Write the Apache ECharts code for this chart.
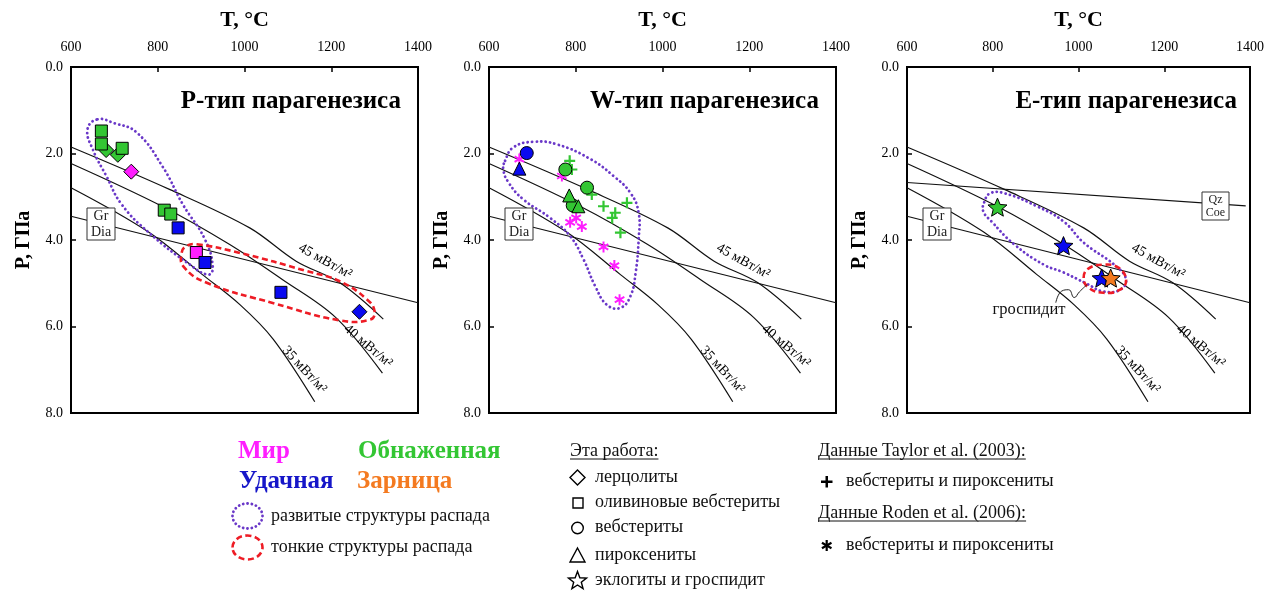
<!DOCTYPE html>
<html><head><meta charset="utf-8">
<script src="https://cdn.jsdelivr.net/npm/echarts@6/dist/echarts.min.js"></script>
<style>html,body{margin:0;padding:0;background:#fff}#c{width:1267px;height:592px}</style>
</head><body><div id="c"></div>
<script>
// ---------- axis ticks ----------
const xTicks = [600, 800, 1000, 1200, 1400];
const yTicks = [0, 2, 4, 6, 8];
const panelTitles = ['P-тип парагенезиса', 'W-тип парагенезиса', 'E-тип парагенезиса'];

// ---------- reference lines (T °C, P GPa) ----------
const geo45 = [[600,1.85],[827,2.83],[1012,3.72],[1119,4.49],[1220,4.99],[1320,5.83]];
const geo40 = [[600,2.23],[810,3.22],[965,4.10],[1088,4.92],[1210,5.79],[1318,7.08]];
const geo35 = [[600,2.79],[778,3.81],[903,4.80],[990,5.50],[1066,6.29],[1162,7.74]];
const grDia = [[600,3.45],[1400,5.45]];
const qzCoe = [[600,2.67],[1390,3.21]];
const geoLabels = [
  {text:'45 мВт/м²', T:1186, P:4.49, rot:-29},
  {text:'40 мВт/м²', T:1285, P:6.45, rot:-40},
  {text:'35 мВт/м²', T:1138, P:7.00, rot:-47}
];

// ---------- panel 1 (P-type) ----------
const p1ObnSq  = [[670,1.48],[670,1.78],[718,1.88],[815,3.31],[830,3.40]];
const p1ObnDia = [[681,1.92],[708,2.03]];
const p1MirDia = [[739,2.42]];
const p1MirSq  = [[889,4.29]];
const p1UdaSq  = [[847,3.72],[909,4.52],[1084,5.21]];
const p1UdaDia = [[1265,5.66]];
const p1Dev = [[661,1.21],[700,1.30],[751,1.51],[811,2.30],[858,3.18],[909,3.99],[927,4.64],[916,4.80],[874,4.57],[782,3.85],[717,3.18],[682,2.53],[650,1.90],[638,1.44]];
const p1Fine = [[890,4.10],[990,4.30],[1144,4.72],[1221,4.96],[1283,5.38],[1300,5.65],[1290,5.84],[1221,5.86],[1067,5.46],[913,4.99],[859,4.61],[855,4.30],[866,4.14]];

// ---------- panel 2 (W-type) ----------
const p2UdaCirc = [[687,1.99]];
const p2UdaTri  = [[670,2.35]];
const p2ObnCirc = [[776,2.37],[826,2.79],[793,3.20]];
const p2ObnTri  = [[785,2.97],[806,3.22]];
const p2Taylor  = [[786,2.17],[791,2.37],[837,2.95],[864,3.22],[918,3.14],[891,3.37],[884,3.49],[903,3.83]];
const p2Roden   = [[670,2.13],[768,2.52],[801,3.49],[787,3.59],[814,3.69],[864,4.16],[889,4.59],[901,5.38]];
const p2Dev = [[637,2.17],[656,1.86],[702,1.73],[757,1.79],[834,2.13],[887,2.52],[926,2.91],[945,3.37],[945,3.99],[938,4.76],[926,5.30],[903,5.57],[872,5.50],[845,5.07],[818,4.45],[787,3.91],[741,3.49],[679,3.06],[645,2.67],[633,2.37]];

// ---------- panel 3 (E-type) ----------
const p3ObnStar = [[811,3.24]];
const p3UdaStar = [[965,4.13],[1054,4.88]];
const p3ZarStar = [[1075,4.88]];
const p3Dev = [[780,3.13],[794,2.92],[827,2.92],[903,3.22],[965,3.57],[1012,4.06],[1088,4.61],[1111,4.92],[1097,5.15],[1058,5.19],[1019,5.01],[965,4.75],[919,4.57],[850,4.10],[797,3.57],[778,3.34]];
const p3Fine = [[1012,4.87],[1023,4.66],[1058,4.57],[1093,4.64],[1111,4.92],[1097,5.15],[1058,5.22],[1023,5.10]];
const p3Leader = [[947,5.45],[961,5.18],[977,5.15],[990,5.33],[1002,5.20],[1020,5.03]];

// ---------- styles ----------
const FONT = '"Liberation Serif", "Times New Roman", serif';
const C = {mir:'#ff1eff', obn:'#33c633', uda:'#0a0af0', zar:'#f47a20', dev:'#6a38c8', fine:'#ee1c25'};
const STAR = 'path://M0,-1L0.2645,-0.364L0.951,-0.309L0.428,0.139L0.588,0.809L0,0.45L-0.588,0.809L-0.428,0.139L-0.951,-0.309L-0.2645,-0.364Z';
const PLUS = 'path://M-0.2,-1L0.2,-1L0.2,-0.2L1,-0.2L1,0.2L0.2,0.2L0.2,1L-0.2,1L-0.2,0.2L-1,0.2L-1,-0.2L-0.2,-0.2Z';
const AST = 'path://M-0.18,-1L0.18,-1L0.18,1L-0.18,1ZM0.776,-0.656L0.956,-0.344L-0.776,0.656L-0.956,0.344ZM0.956,0.344L0.776,0.656L-0.956,-0.344L-0.776,-0.656Z';

const GRIDS = [71, 489, 907].map(l => ({left:l, top:67, width:347, height:346}));

const chart = echarts.init(document.getElementById('c'), null, {renderer:'canvas'});

const xAxes = [], yAxes = [], series = [];
GRIDS.forEach((g, i) => {
  xAxes.push({gridIndex:i, type:'value', min:xTicks[0], max:xTicks[xTicks.length-1], interval:xTicks[1]-xTicks[0],
    position:'top', name:'T, °C', nameLocation:'middle', nameGap:36,
    nameTextStyle:{fontFamily:FONT, fontWeight:'bold', fontSize:22, color:'#000'},
    axisLine:{show:false}, splitLine:{show:false},
    axisTick:{inside:true, length:5, lineStyle:{color:'#000', width:1.5}},
    axisLabel:{fontFamily:FONT, fontSize:14, color:'#000', margin:13, formatter:v => String(v)}});
  yAxes.push({gridIndex:i, type:'value', min:yTicks[0], max:yTicks[yTicks.length-1], interval:yTicks[1]-yTicks[0], inverse:true,
    name:'P, ГПа', nameLocation:'middle', nameGap:37, nameRotate:90,
    nameTextStyle:{fontFamily:FONT, fontWeight:'bold', fontSize:20, color:'#000'},
    axisLine:{show:false}, splitLine:{show:false},
    axisTick:{inside:true, length:5, lineStyle:{color:'#000', width:1.5}},
    axisLabel:{fontFamily:FONT, fontSize:14, color:'#000', margin:8, formatter:v => v.toFixed(1)}});
  const lines = [geo45, geo40, geo35, grDia];
  if (i === 2) lines.push(qzCoe);
  lines.forEach(d => series.push({type:'line', xAxisIndex:i, yAxisIndex:i, data:d, smooth:d.length > 2 ? 0.35 : false,
    symbol:'none', silent:true, z:1, lineStyle:{color:'#111', width:1.2}}));
});

function outline(i, pts, color, dotted) {
  series.push({type:'custom', xAxisIndex:i, yAxisIndex:i, data:[[pts[0][0], pts[0][1]]], silent:true, z:2, clip:false,
    renderItem:(params, api) => ({type:'polygon', shape:{points:pts.map(p => api.coord(p)), smooth:0.45},
      style:{fill:'none', stroke:color, lineWidth:dotted ? 2.8 : 2.6, lineDash:dotted ? [0.1, 4.4] : [6, 3.5], lineCap:dotted ? 'round' : 'butt'}})});
}
function pts(i, data, symbol, color, size, border) {
  series.push({type:'scatter', xAxisIndex:i, yAxisIndex:i, data, symbol, symbolSize:size, symbolKeepAspect:true, z:3, silent:true,
    itemStyle:{color, borderColor:'#000', borderWidth:border === undefined ? 1 : border, opacity:1}});
}

outline(0, p1Dev, C.dev, true);
outline(0, p1Fine, C.fine, false);
pts(0, p1ObnDia, 'diamond', C.obn, 15);
pts(0, p1ObnSq, 'rect', C.obn, 12);
pts(0, p1MirDia, 'diamond', C.mir, 15);
pts(0, p1MirSq, 'rect', C.mir, 12);
pts(0, p1UdaSq, 'rect', C.uda, 12);
pts(0, p1UdaDia, 'diamond', C.uda, 15);

outline(1, p2Dev, C.dev, true);
pts(1, p2Roden, AST, C.mir, 11, 0);
pts(1, p2Taylor, PLUS, C.obn, 11, 0);
pts(1, p2UdaTri, 'triangle', C.uda, 13);
pts(1, p2UdaCirc, 'circle', C.uda, 13);
pts(1, p2ObnCirc, 'circle', C.obn, 13);
pts(1, p2ObnTri, 'triangle', C.obn, 13);

outline(2, p3Dev, C.dev, true);
outline(2, p3Fine, C.fine, false);
series.push({type:'line', xAxisIndex:2, yAxisIndex:2, data:p3Leader, smooth:0.5, symbol:'none', silent:true, z:2, lineStyle:{color:'#222', width:1}});
pts(2, p3ObnStar, STAR, C.obn, 19);
pts(2, p3UdaStar, STAR, C.uda, 19);
pts(2, p3ZarStar, STAR, C.zar, 19);

chart.setOption({animation:false, backgroundColor:'#fff',
  grid:GRIDS.map(g => Object.assign({show:true, borderColor:'#000', borderWidth:2, containLabel:false}, g)),
  xAxis:xAxes, yAxis:yAxes, series});

// ---------- annotations and legend ----------
const ctx = document.createElement('canvas').getContext('2d');
function textW(font, t) { ctx.font = font; return ctx.measureText(t).width; }
const G = [];
const txt = (x, y, text, font, fill, align, extra) => G.push(Object.assign({type:'text', z:20, x, y,
  style:{text, font, fill:fill || '#000', textAlign:align || 'left', textVerticalAlign:'middle'}}, extra || {}));

GRIDS.forEach((g, i) => {
  txt(g.left + g.width - 17, 102, panelTitles[i], 'bold 25px ' + FONT, '#000', 'right');
  geoLabels.forEach(l => {
    const p = chart.convertToPixel({gridIndex:i}, [l.T, l.P]);
    txt(p[0], p[1], l.text, '14px ' + FONT, '#000', 'center', {rotation:l.rot * Math.PI / 180});
  });
  G.push({type:'rect', z:19, shape:{x:g.left + 16, y:208, width:28, height:32}, style:{fill:'#fff', stroke:'#333', lineWidth:1}});
  txt(g.left + 30, 216.5, 'Gr', '14px ' + FONT, '#222', 'center');
  txt(g.left + 30, 232, 'Dia', '14px ' + FONT, '#222', 'center');
});
// Qz/Coe box
G.push({type:'rect', z:19, shape:{x:GRIDS[2].left + 295, y:192, width:27, height:28}, style:{fill:'#fff', stroke:'#333', lineWidth:1}});
txt(GRIDS[2].left + 308.5, 199.5, 'Qz', '12px ' + FONT, '#222', 'center');
txt(GRIDS[2].left + 308.5, 212.5, 'Coe', '12px ' + FONT, '#222', 'center');
txt(1029, 310, 'гроспидит', '16.5px ' + FONT, '#111', 'center');

// legend: localities
const LB = 'bold 25px ' + FONT;
txt(238, 452, 'Мир', LB, C.mir);
txt(358, 452, 'Обнаженная', LB, C.obn);
txt(239, 482, 'Удачная', LB, '#1616c8');
txt(357, 482, 'Зарница', LB, C.zar);
G.push({type:'ellipse', z:20, shape:{cx:247.5, cy:516, rx:15, ry:12.5}, style:{fill:'none', stroke:C.dev, lineWidth:2.8, lineDash:[0.1, 4.2], lineCap:'round'}});
G.push({type:'ellipse', z:20, shape:{cx:247.5, cy:547.5, rx:15, ry:12}, style:{fill:'none', stroke:C.fine, lineWidth:2.6, lineDash:[6, 3.5]}});
const LT = '18px ' + FONT;
txt(271, 516, 'развитые структуры распада', LT, '#111');
txt(271, 547, 'тонкие структуры распада', LT, '#111');

// legend: symbols
function header(x, y, t) {
  txt(x, y, t, LT, '#111');
  const w = textW(LT, t);
  G.push({type:'line', z:20, shape:{x1:x, y1:y + 8, x2:x + w, y2:y + 8}, style:{stroke:'#111', lineWidth:1}});
}
header(570, 451, 'Эта работа:');
const sx = 577.5, S = {stroke:'#000', lineWidth:1.4, fill:'none'};
G.push({type:'polygon', z:20, shape:{points:[[sx,470],[sx+7.5,477.5],[sx,485],[sx-7.5,477.5]]}, style:S});
G.push({type:'rect', z:20, shape:{x:sx-4.5, y:498, width:10, height:10}, style:S});
G.push({type:'circle', z:20, shape:{cx:sx, cy:528, r:5.8}, style:S});
G.push({type:'polygon', z:20, shape:{points:[[sx,548],[sx+7.5,562],[sx-7.5,562]]}, style:S});
const starPts = [];
for (let k = 0; k < 10; k++) { const a = (-90 + k * 36) * Math.PI / 180, r = k % 2 ? 4 : 9.5; starPts.push([sx + r * Math.cos(a), 581 + r * Math.sin(a)]); }
G.push({type:'polygon', z:20, shape:{points:starPts}, style:S});
[['лерцолиты',477],['оливиновые вебстериты',502.5],['вебстериты',527.5],['пироксениты',555],['эклогиты и гроспидит',580]]
  .forEach(r => txt(595, r[1], r[0], LT, '#111'));

header(818, 451, 'Данные Taylor et al. (2003):');
G.push({type:'polygon', z:20, shape:{points:[[825.5,476],[828,476],[828,480.5],[832.5,480.5],[832.5,483],[828,483],[828,487.5],[825.5,487.5],[825.5,483],[821,483],[821,480.5],[825.5,480.5]]}, style:{fill:'#000'}});
txt(846, 481, 'вебстериты и пироксениты', LT, '#111');
header(818, 513, 'Данные Roden et al. (2006):');
[0, 60, 120].forEach(a => {
  const r = a * Math.PI / 180, L = 5.5;
  G.push({type:'line', z:20, shape:{x1:826.7 - L * Math.sin(r), y1:545.5 - L * Math.cos(r), x2:826.7 + L * Math.sin(r), y2:545.5 + L * Math.cos(r)}, style:{stroke:'#000', lineWidth:2.2}});
});
txt(846, 545, 'вебстериты и пироксениты', LT, '#111');

chart.setOption({graphic:{elements:G}});
</script></body></html>
